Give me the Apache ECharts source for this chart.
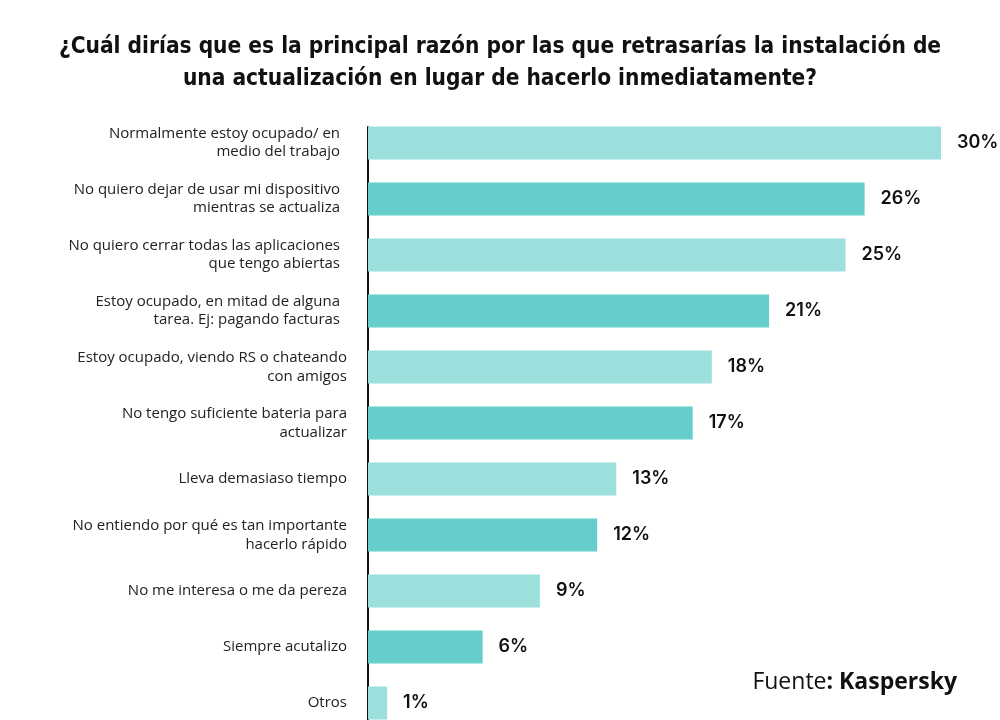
<!DOCTYPE html>
<html>
<head>
<meta charset="utf-8">
<script src="https://cdn.jsdelivr.net/npm/echarts@6/dist/echarts.min.js"></script>
<style>
  html, body { margin: 0; padding: 0; background: #fff; }
  #chart { width: 1000px; height: 720px; }
</style>
</head>
<body>
<div id="chart"></div>
<script>
// motivos (con saltos de linea como en la imagen)
var categories = [
  'Normalmente estoy ocupado/ en\nmedio del trabajo',
  'No quiero dejar de usar mi dispositivo\nmientras se actualiza',
  'No quiero cerrar todas las aplicaciones\nque tengo abiertas',
  'Estoy ocupado, en mitad de alguna\ntarea. Ej: pagando facturas',
  'Estoy ocupado, viendo RS o chateando\ncon amigos',
  'No tengo suficiente bateria para\nactualizar',
  'Lleva demasiaso tiempo',
  'No entiendo por qué es tan importante\nhacerlo rápido',
  'No me interesa o me da pereza',
  'Siempre acutalizo',
  'Otros'
];
var values = [30, 26, 25, 21, 18, 17, 13, 12, 9, 6, 1];

var titleText = '¿Cuál dirías que es la principal razón por las que retrasarías la instalación de\nuna actualización en lugar de hacerlo inmediatamente?';

var lightColor = '#9ddfdc';
var darkColor = '#66cdcc';

var chart = echarts.init(document.getElementById('chart'));

var option = {
  backgroundColor: '#fff',
  animation: false,
  title: [{
    text: titleText,
    left: 'center',
    top: 31,
    padding: 0,
    textStyle: {
      fontFamily: '"Liberation Sans Narrow", "DejaVu Sans Condensed", "Open Sans", sans-serif',
      fontWeight: 'bold',
      fontSize: 22.5,
      lineHeight: 32,
      align: 'center',
      color: '#111'
    }
  }, {
    // fuente
    text: '{n|Fuente}{b|: Kaspersky}',
    right: 43,
    top: 671,
    padding: 0,
    textStyle: {
      rich: {
        n: { fontFamily: '"Open Sans", sans-serif', fontSize: 23, fontWeight: 'normal', color: '#111' },
        b: { fontFamily: '"Open Sans", sans-serif', fontSize: 23, fontWeight: 'bold', color: '#111' }
      }
    }
  }],
  grid: [{
    left: 368,
    width: 573,
    top: 115,
    height: 616,
    outerBoundsMode: 'none'
  }, {
    // solo para la linea del eje
    left: 368,
    width: 573,
    top: 127,
    height: 604,
    outerBoundsMode: 'none'
  }],
  xAxis: [{
    type: 'value',
    min: 0,
    max: 30,
    show: false
  }, {
    gridIndex: 1,
    type: 'value',
    show: false
  }],
  yAxis: [{
    type: 'category',
    inverse: true,
    data: categories,
    axisLine: { show: false },
    axisTick: { show: false },
    axisLabel: {
      margin: 21,
      fontFamily: '"Open Sans", sans-serif',
      fontSize: 15,
      lineHeight: 19,
      color: '#222',
      align: 'right',
      // las cuatro primeras etiquetas quedan algo mas separadas del eje
      formatter: function (value, index) {
        return index < 4 ? '{f|' + value + '}' : value;
      },
      rich: {
        f: {
          fontFamily: '"Open Sans", sans-serif',
          fontSize: 15,
          lineHeight: 18,
          color: '#222',
          padding: [0, 7, 0, 0]
        }
      }
    }
  }, {
    gridIndex: 1,
    type: 'value',
    axisLine: { show: true, onZero: false, lineStyle: { color: '#111', width: 2 } },
    axisTick: { show: false },
    axisLabel: { show: false },
    splitLine: { show: false }
  }],
  series: [{
    type: 'bar',
    data: values,
    barWidth: 33,
    itemStyle: {
      color: function (p) {
        return p.dataIndex % 2 === 0 ? lightColor : darkColor;
      }
    },
    label: {
      show: true,
      position: 'right',
      distance: 16,
      formatter: '{c}%',
      fontFamily: 'Inter, Lato, sans-serif',
      fontWeight: 600,
      fontSize: 18,
      color: '#111'
    }
  }]
};

chart.setOption(option);
</script>
</body>
</html>
